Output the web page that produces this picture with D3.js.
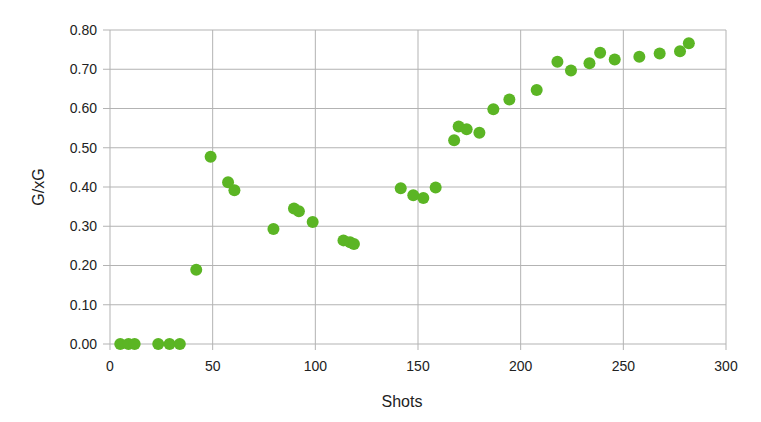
<!DOCTYPE html>
<html><head><meta charset="utf-8">
<script src="https://cdn.jsdelivr.net/npm/d3@7"></script>
<style>body{margin:0;background:#fff}svg{display:block}</style>
</head><body>
<svg id="c" width="761" height="422"></svg>
<script>
const shots = [5,9,12,23.5,29,34,42,49,57.5,60.6,79.6,89.6,92,98.7,113.7,116.9,118.8,141.6,147.7,152.6,158.6,167.6,169.8,173.7,179.9,186.7,194.5,207.8,217.9,224.5,233.5,238.7,245.8,257.8,267.7,277.6,281.9];
const gxg   = [0,0,0,0,0,0,0.189,0.477,0.412,0.392,0.293,0.345,0.338,0.311,0.264,0.259,0.255,0.397,0.379,0.372,0.399,0.519,0.554,0.547,0.538,0.598,0.623,0.647,0.719,0.697,0.715,0.742,0.725,0.732,0.740,0.746,0.766];
const xTicks = [0,50,100,150,200,250,300];
const yTicks = [0,0.1,0.2,0.3,0.4,0.5,0.6,0.7,0.8];

const svg = d3.select("#c");
const L=110,R=726,T=30,B=344;
const x = d3.scaleLinear().domain([0,300]).range([L,R]);
const y = d3.scaleLinear().domain([0,0.8]).range([B,T]);
const grid="#b3b3b3";
const font="'Liberation Sans', Arial, sans-serif";

// gridlines
svg.append("g").selectAll("line").data(xTicks).join("line")
  .attr("x1",d=>x(d)).attr("x2",d=>x(d)).attr("y1",T).attr("y2",B+6)
  .attr("stroke",grid).attr("stroke-width",1);
svg.append("g").selectAll("line").data(yTicks).join("line")
  .attr("x1",L-7).attr("x2",R).attr("y1",d=>y(d)).attr("y2",d=>y(d))
  .attr("stroke",grid).attr("stroke-width",1);

// tick labels
svg.append("g").selectAll("text").data(yTicks).join("text")
  .attr("x",L-13).attr("y",d=>y(d)).attr("dy","0.35em")
  .attr("text-anchor","end").attr("font-family",font).attr("font-size",14).attr("fill","#222")
  .text(d=>d.toFixed(2));
svg.append("g").selectAll("text").data(xTicks).join("text")
  .attr("x",d=>x(d)).attr("y",B+22).attr("dy","0.35em")
  .attr("text-anchor","middle").attr("font-family",font).attr("font-size",14).attr("fill","#222")
  .text(d=>d);

// axis titles
svg.append("text").attr("x",402).attr("y",401).attr("dy","0.35em").attr("text-anchor","middle")
  .attr("font-family",font).attr("font-size",16).attr("fill","#222").text("Shots");
svg.append("text").attr("transform","translate(38,187) rotate(-90)").attr("dy","0.35em").attr("text-anchor","middle")
  .attr("font-family",font).attr("font-size",16).attr("fill","#222").text("G/xG");

// points
svg.append("g").selectAll("circle").data(shots.map((s,i)=>[s,gxg[i]])).join("circle")
  .attr("cx",d=>x(d[0])).attr("cy",d=>y(d[1])).attr("r",6).attr("fill","#5bb524");
</script>
</body></html>
